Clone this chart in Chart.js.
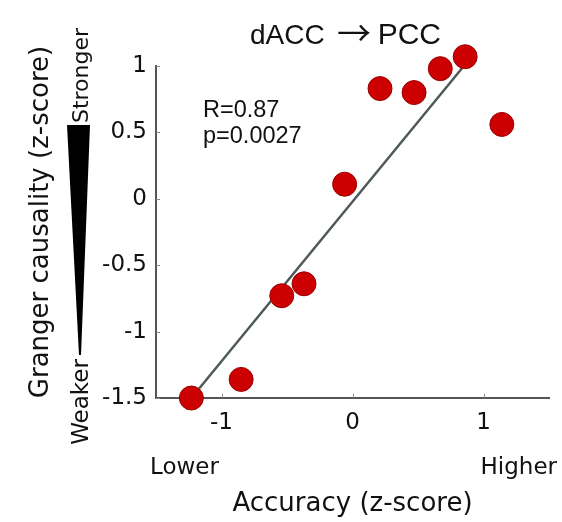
<!DOCTYPE html>
<html>
<head>
<meta charset="utf-8">
<script src="https://cdn.jsdelivr.net/npm/chart.js@4.4.1/dist/chart.umd.min.js"></script>
<style>
  html, body { margin:0; padding:0; background:#fff; }
  canvas { display:block; }
</style>
</head>
<body>
<canvas id="chart" width="562" height="522"></canvas>
<script>
'use strict';
// ── dACC → PCC : granger causality vs accuracy ─────────────

const accuracy = [-1.23, -0.85, -0.54, -0.37, -0.06, 0.21, 0.47, 0.67, 0.86, 1.14];
const granger  = [-1.50, -1.36, -0.73, -0.64, 0.11, 0.83, 0.80, 0.98, 1.07, 0.56];
const fitX     = [-1.23, 0.85];
const fitY     = [-1.50, 1.00];
const xTicks   = [-1, 0, 1];
const yTicks   = [1, 0.5, 0, -0.5, -1, -1.5];

const SANS  = '"DejaVu Sans", sans-serif';
const ARIAL = '"Liberation Sans", Arial, sans-serif';
const AXIS  = '#555';
const INK   = '#111';

// ── extra marks: inner ticks, labels, wedge ────────────────
const extras = {
  id: 'extras',
  beforeDatasetsDraw(chart) {
    const { ctx, chartArea: a, scales: { x, y } } = chart;
    ctx.save();
    ctx.strokeStyle = '#888';
    ctx.lineWidth = 1;
    xTicks.forEach(v => {
      const px = Math.round(x.getPixelForValue(v)) + 0.5;
      ctx.beginPath(); ctx.moveTo(px, a.bottom); ctx.lineTo(px, a.bottom - 4); ctx.stroke();
    });
    yTicks.forEach(v => {
      const py = Math.round(y.getPixelForValue(v)) + 0.5;
      ctx.beginPath(); ctx.moveTo(a.left, py); ctx.lineTo(a.left + 4, py); ctx.stroke();
    });
    ctx.restore();
  },
  afterDraw(chart) {
    const { ctx } = chart;
    ctx.save();
    ctx.fillStyle = INK;
    ctx.textBaseline = 'alphabetic';

    // title in three pieces so the arrow gets its own width
    ctx.font = '28px ' + ARIAL;
    ctx.textAlign = 'left';
    ctx.fillText('dACC', 250, 43.5);
    ctx.textAlign = 'right';
    ctx.font = '30px ' + ARIAL;
    ctx.fillText('PCC', 441, 43.5);
    ctx.textAlign = 'center';
    ctx.textBaseline = 'middle';
    ctx.font = '34px "Noto Sans CJK JP", ' + SANS;
    ctx.fillText('\u2192', 354, 33);
    ctx.textBaseline = 'alphabetic';

    ctx.textAlign = 'left';
    ctx.font = '23.5px ' + ARIAL;
    ctx.fillText('R=0.87', 203, 116.7);
    ctx.fillText('p=0.0027', 203, 143.3);

    ctx.font = '23px ' + SANS;
    ctx.fillText('Lower', 150, 473.5);
    ctx.textAlign = 'right';
    ctx.fillText('Higher', 557, 474);

    // rotated labels on the left
    const vtext = (txt, font, bx, cy) => {
      ctx.save();
      ctx.translate(bx, cy);
      ctx.rotate(-Math.PI / 2);
      ctx.textAlign = 'center';
      ctx.font = font;
      ctx.fillText(txt, 0, 0);
      ctx.restore();
    };
    vtext('Granger causality (z-score)', '26px ' + SANS, 47.5, 222);
    vtext('Stronger', '22px ' + SANS, 87.5, 75.5);
    vtext('Weaker',   '23px ' + SANS, 87.5, 402);

    // strength wedge
    ctx.beginPath();
    ctx.moveTo(67, 125);
    ctx.lineTo(90, 125);
    ctx.lineTo(81, 355);
    ctx.lineTo(79, 355);
    ctx.closePath();
    ctx.fillStyle = '#000';
    ctx.fill();
    ctx.restore();
  },
};

new Chart(document.getElementById('chart'), {
  type: 'scatter',
  data: {
    datasets: [
      {
        data: accuracy.map((v, i) => ({ x: v, y: granger[i] })),
        backgroundColor: '#cc0000',
        borderColor: '#9a0000',
        borderWidth: 1,
        pointRadius: 12,
        order: 1,
        clip: false,
      },
      {
        data: fitX.map((v, i) => ({ x: v, y: fitY[i] })),
        showLine: true,
        borderColor: '#4f5959',
        borderWidth: 2.5,
        pointRadius: 0,
        order: 2,
        clip: false,
      },
    ],
  },
  options: {
    responsive: false,
    animation: false,
    layout: { padding: { top: 66, right: 8, bottom: 0, left: 0 } },
    plugins: { legend: { display: false }, tooltip: { enabled: false } },
    scales: {
      x: {
        type: 'linear', min: -1.5, max: 1.5,
        afterFit: s => { s.height = 124; },
        afterBuildTicks: s => { s.ticks = xTicks.map(v => ({ value: v })); },
        grid: { display: false, drawTicks: false },
        border: { display: true, color: AXIS, width: 2 },
        ticks: { font: { family: SANS, size: 23 }, color: INK, padding: 11, maxRotation: 0, callback: v => String(v) },
        title: { display: true, text: 'Accuracy (z-score)', font: { family: SANS, size: 26 }, color: INK, padding: { top: 0, bottom: 2 } },
      },
      y: {
        type: 'linear', min: -1.5, max: 1,
        afterFit: s => { s.width = 156; },
        afterBuildTicks: s => { s.ticks = yTicks.map(v => ({ value: v })); },
        grid: { display: false, drawTicks: false },
        border: { display: true, color: AXIS, width: 2 },
        ticks: { font: { family: SANS, size: 23 }, color: INK, padding: 9, callback: v => String(v) },
      },
    },
  },
  plugins: [extras],
});
</script>
</body>
</html>
